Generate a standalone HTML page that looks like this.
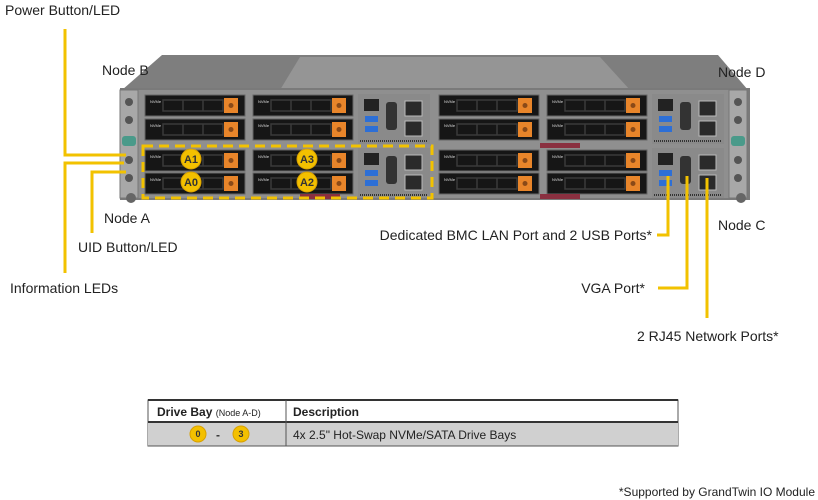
<!DOCTYPE html>
<html><head><meta charset="utf-8"><style>
body{margin:0;background:#fff;}
svg{display:block;font-family:"Liberation Sans",Arial,sans-serif;}
</style></head><body>
<svg width="818" height="500" viewBox="0 0 818 500" xmlns="http://www.w3.org/2000/svg">
<defs>
<g id="drv">
<rect x="0" y="0" width="100" height="21" fill="#161616" stroke="#666" stroke-width="1"/>
<rect x="18" y="5" width="60" height="11" fill="none" stroke="#3a3a3a" stroke-width="1.5"/>
<line x1="38" y1="5" x2="38" y2="16" stroke="#3a3a3a" stroke-width="1.5"/>
<line x1="58" y1="5" x2="58" y2="16" stroke="#3a3a3a" stroke-width="1.5"/>
<text x="5" y="8" font-size="4" fill="#ddd">NVMe</text>
<rect x="79" y="3" width="14" height="15" fill="#e8852a"/>
<circle cx="86" cy="10.5" r="2.5" fill="#8a4a18"/>
</g>
<g id="io">
<rect x="0" y="0" width="72" height="50" fill="#8a8a8a"/>
<rect x="6" y="5" width="15" height="12" fill="#222"/>
<rect x="7" y="22" width="13" height="6" fill="#2d6fd6"/>
<rect x="7" y="32" width="13" height="6" fill="#2d6fd6"/>
<rect x="28" y="8" width="11" height="28" rx="3" fill="#333"/>
<rect x="47" y="7" width="17" height="15" fill="#2a2a2a" stroke="#bbb"/>
<rect x="47" y="27" width="17" height="15" fill="#2a2a2a" stroke="#bbb"/>
<line x1="2" y1="47" x2="70" y2="47" stroke="#333" stroke-dasharray="1 1" stroke-width="2"/>
</g>
<g id="ear">
<rect x="0" y="0" width="18" height="108" fill="#a8a8a8" stroke="#777"/>
<circle cx="9" cy="12" r="4" fill="#555"/>
<circle cx="9" cy="30" r="4" fill="#555"/>
<rect x="2" y="46" width="14" height="10" rx="3" fill="#4a9a8a"/>
<circle cx="9" cy="70" r="4" fill="#555"/>
<circle cx="9" cy="88" r="4" fill="#555"/>
</g>
</defs>

<polygon points="162,55 718,55 748,90 122,90" fill="#7e7e7e"/>
<polygon points="300,57 600,57 630,90 280,90" fill="#959595"/>
<rect x="120" y="88" width="630" height="112" fill="#7a7a7a"/>
<rect x="138" y="90" width="592" height="108" fill="#8f8f8f"/>
<use href="#ear" x="120" y="90"/>
<use href="#ear" x="729" y="90"/>
<circle cx="131" cy="198" r="5" fill="#666"/>
<circle cx="741" cy="198" r="5" fill="#666"/>

<use href="#drv" x="145" y="95"/><use href="#drv" x="253" y="95"/>
<use href="#drv" x="145" y="119"/><use href="#drv" x="253" y="119"/>
<use href="#drv" x="145" y="150"/><use href="#drv" x="253" y="150"/>
<use href="#drv" x="145" y="173"/><use href="#drv" x="253" y="173"/>
<use href="#drv" x="439" y="95"/><use href="#drv" x="547" y="95"/>
<use href="#drv" x="439" y="119"/><use href="#drv" x="547" y="119"/>
<use href="#drv" x="439" y="150"/><use href="#drv" x="547" y="150"/>
<use href="#drv" x="439" y="173"/><use href="#drv" x="547" y="173"/>
<use href="#io" x="358" y="94"/><use href="#io" x="358" y="148"/>
<use href="#io" x="652" y="94"/><use href="#io" x="652" y="148"/>
<rect x="540" y="143" width="40" height="5" fill="#8a3040"/>
<rect x="540" y="194" width="40" height="5" fill="#8a3040"/>
<rect x="300" y="194" width="40" height="5" fill="#8a3040"/>

<rect x="143" y="146" width="289" height="52" fill="none" stroke="#f2c200" stroke-width="3" stroke-dasharray="10 6"/>
<g font-size="11" font-weight="bold" text-anchor="middle" fill="#333">
<circle cx="191" cy="159" r="10" fill="#f3c000" stroke="#d8a000"/><text x="191" y="163">A1</text>
<circle cx="307" cy="159" r="10" fill="#f3c000" stroke="#d8a000"/><text x="307" y="163">A3</text>
<circle cx="191" cy="182" r="10" fill="#f3c000" stroke="#d8a000"/><text x="191" y="186">A0</text>
<circle cx="307" cy="182" r="10" fill="#f3c000" stroke="#d8a000"/><text x="307" y="186">A2</text>
</g>

<g stroke="#f2c200" stroke-width="3" fill="none">
<polyline points="65,29 65,155 126,155"/>
<polyline points="124,163 65,163 65,273"/>
<polyline points="126,172 92,172 92,233"/>
<polyline points="668,176 668,235 657,235"/>
<polyline points="687,176 687,288 658,288"/>
<polyline points="707,178 707,318"/>
</g>

<g font-size="14" fill="#222">
<text x="5" y="15">Power Button/LED</text>
<text x="102" y="75">Node B</text>
<text x="104" y="223">Node A</text>
<text x="78" y="252">UID Button/LED</text>
<text x="10" y="293">Information LEDs</text>
<text x="718" y="77">Node D</text>
<text x="718" y="230">Node C</text>
<text x="652" y="240" text-anchor="end">Dedicated BMC LAN Port and 2 USB Ports*</text>
<text x="645" y="293" text-anchor="end">VGA Port*</text>
<text x="637" y="341">2 RJ45 Network Ports*</text>
</g>

<rect x="148" y="400" width="530" height="46" fill="#fff" stroke="#555"/>
<rect x="148" y="422" width="530" height="24" fill="#d0d0d0"/>
<line x1="148" y1="422" x2="678" y2="422" stroke="#333" stroke-width="2"/>
<line x1="148" y1="400" x2="678" y2="400" stroke="#333" stroke-width="2"/>
<line x1="148" y1="446" x2="678" y2="446" stroke="#555"/>
<line x1="286" y1="400" x2="286" y2="446" stroke="#555"/>
<text x="157" y="416" font-size="12" font-weight="bold" fill="#222">Drive Bay <tspan font-size="9" font-weight="normal">(Node A-D)</tspan></text>
<text x="293" y="416" font-size="12" font-weight="bold" fill="#222">Description</text>
<circle cx="198" cy="434" r="8" fill="#f3c000" stroke="#d8a000"/>
<text x="198" y="437" font-size="9" font-weight="bold" text-anchor="middle" fill="#333">0</text>
<text x="218" y="439" font-size="12" font-weight="bold" text-anchor="middle" fill="#333">-</text>
<circle cx="241" cy="434" r="8" fill="#f3c000" stroke="#d8a000"/>
<text x="241" y="437" font-size="9" font-weight="bold" text-anchor="middle" fill="#333">3</text>
<text x="293" y="439" font-size="12" fill="#222">4x 2.5" Hot-Swap NVMe/SATA Drive Bays</text>

<text x="815" y="496" font-size="12" text-anchor="end" fill="#222">*Supported by GrandTwin IO Module</text>
</svg>
</body></html>
